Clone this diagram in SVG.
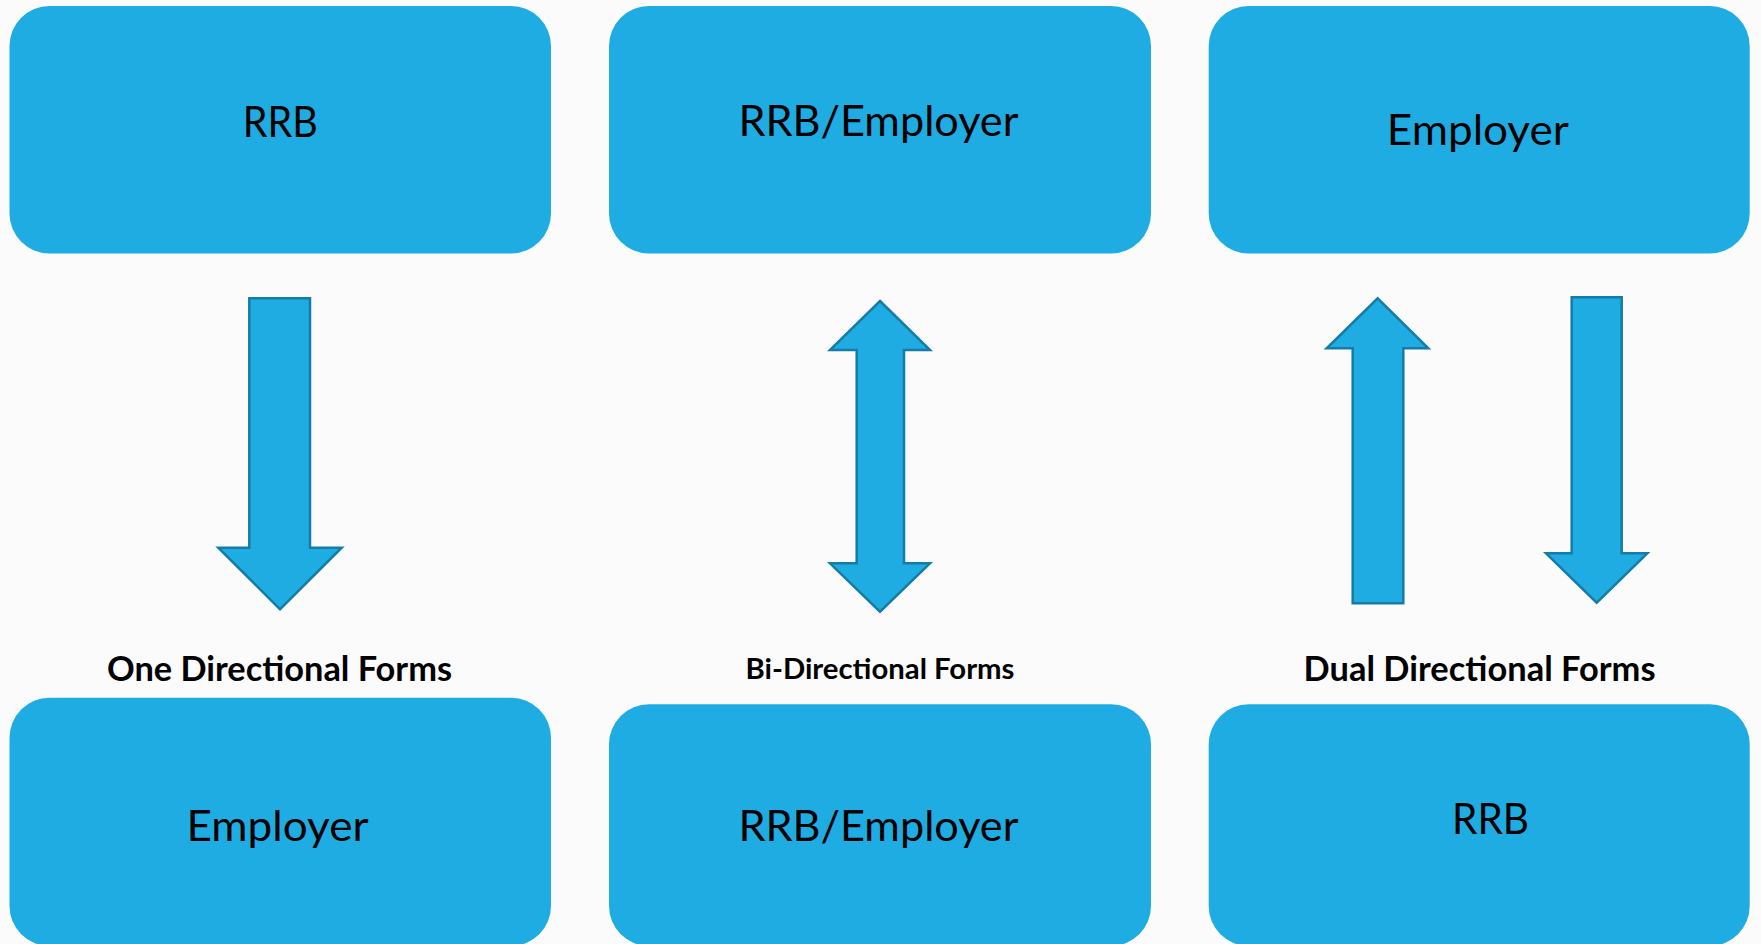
<svg xmlns="http://www.w3.org/2000/svg" width="1761" height="944" viewBox="0 0 1761 944">
  <style>
    .box { fill: #1EACE3; }
    .arrow { fill: #1EACE3; stroke: #157CA8; stroke-width: 2.5; stroke-linejoin: miter; }
    .name { font-family: Lato, "Open Sans", "Liberation Sans", sans-serif; font-size: 42px; fill: #000; text-anchor: middle; }
    .label { font-family: Lato, "Open Sans", "Liberation Sans", sans-serif; font-weight: bold; font-size: 33.5px; fill: #000; text-anchor: middle; }
    .label.small { font-size: 28px; }
  </style>
  <rect width="1761" height="944" fill="#FBFBFB"/>

  <!-- top row -->
  <g id="node-rrb-top">
    <rect class="box" x="9.5" y="6" width="541.5" height="247.5" rx="40" ry="40"/>
    <text class="name" x="280.3" y="136.7" textLength="75" lengthAdjust="spacingAndGlyphs">RRB</text>
  </g>
  <g id="node-rrb-employer-top">
    <rect class="box" x="609" y="6" width="542" height="247.5" rx="40" ry="40"/>
    <text class="name" x="878.4" y="136" textLength="280" lengthAdjust="spacingAndGlyphs">RRB/Employer</text>
  </g>
  <g id="node-employer-top">
    <rect class="box" x="1208.7" y="6" width="541" height="247.5" rx="40" ry="40"/>
    <text class="name" x="1477.8" y="145" textLength="182" lengthAdjust="spacingAndGlyphs">Employer</text>
  </g>

  <!-- bottom row -->
  <g id="node-employer-bottom">
    <rect class="box" x="9.5" y="697.7" width="541.5" height="248.3" rx="40" ry="40"/>
    <text class="name" x="277.5" y="840.7" textLength="182" lengthAdjust="spacingAndGlyphs">Employer</text>
  </g>
  <g id="node-rrb-employer-bottom">
    <rect class="box" x="609" y="704.3" width="542" height="241.7" rx="40" ry="40"/>
    <text class="name" x="878.4" y="841" textLength="280" lengthAdjust="spacingAndGlyphs">RRB/Employer</text>
  </g>
  <g id="node-rrb-bottom">
    <rect class="box" x="1208.7" y="704.3" width="541" height="241.7" rx="40" ry="40"/>
    <text class="name" x="1490.5" y="834.3" textLength="77" lengthAdjust="spacingAndGlyphs">RRB</text>
  </g>

  <!-- captions -->
  <g id="captions">
    <text class="label" x="279.5" y="680.5" textLength="345" lengthAdjust="spacingAndGlyphs">One Directional Forms</text>
    <text class="label small" x="880" y="679.3" textLength="269" lengthAdjust="spacingAndGlyphs">Bi-Directional Forms</text>
    <text class="label" x="1479.6" y="680.7" textLength="352" lengthAdjust="spacingAndGlyphs">Dual Directional Forms</text>
  </g>

  <!-- block arrows -->
  <g id="connectors">
    <!-- one directional: down -->
    <polygon class="arrow" points="249.3,298.3 310,298.3 310,547.7 341.7,547.7 280,609.3 218.3,547.7 249.3,547.7"/>
    <!-- bi-directional: up and down -->
    <polygon class="arrow" points="880,301 930,350 904,350 904,563.3 930,563.3 880,611.7 830,563.3 856.7,563.3 856.7,350 830,350"/>
    <!-- dual directional: up -->
    <polygon class="arrow" points="1377.7,298.3 1428.3,348.3 1403.3,348.3 1403.3,603.3 1352.7,603.3 1352.7,348.3 1326.7,348.3"/>
    <!-- dual directional: down -->
    <polygon class="arrow" points="1571.7,297.3 1621.7,297.3 1621.7,553.3 1647.3,553.3 1596.7,602.7 1546,553.3 1571.7,553.3"/>
  </g>
</svg>
